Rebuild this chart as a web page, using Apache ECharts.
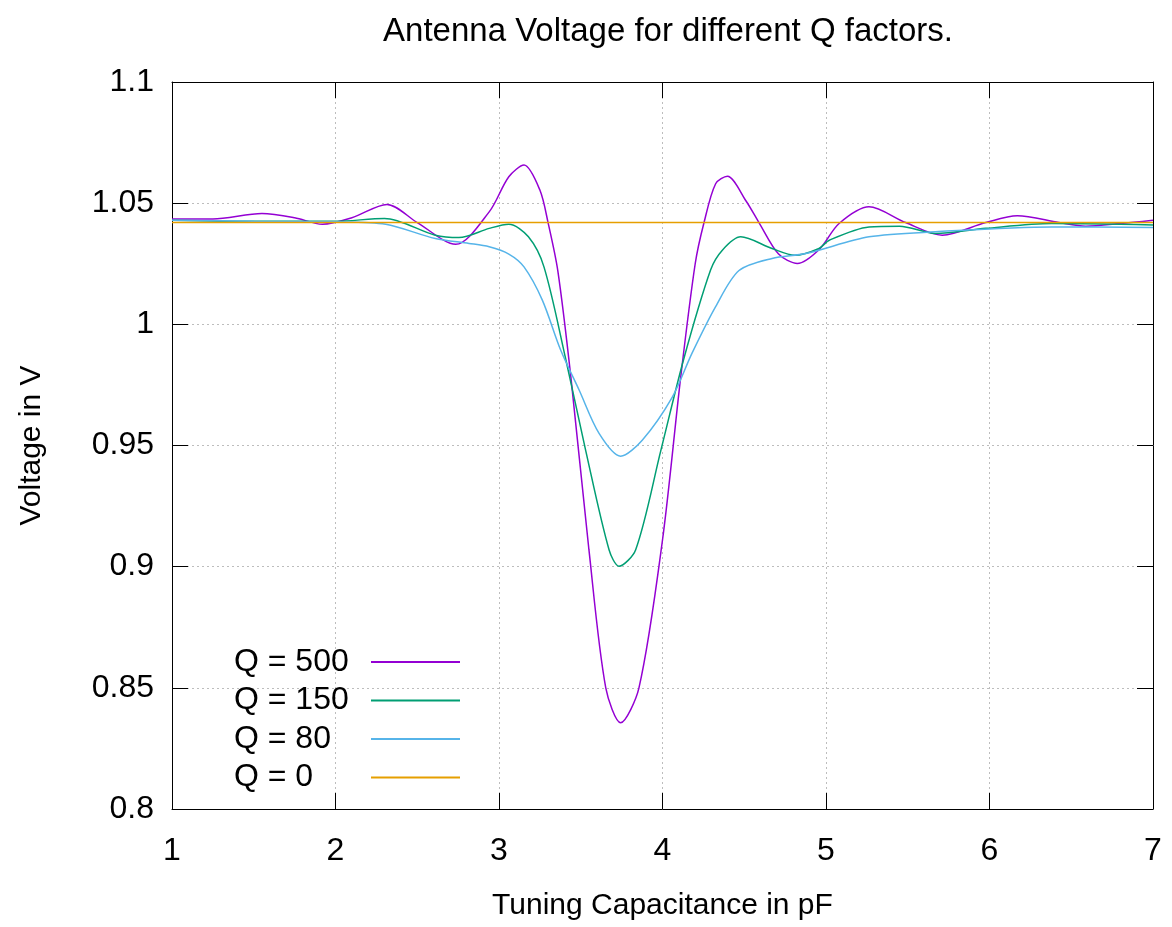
<!DOCTYPE html>
<html>
<head>
<meta charset="utf-8">
<script src="https://cdn.jsdelivr.net/npm/echarts@6/dist/echarts.min.js"></script>
<style>html,body{margin:0;padding:0;background:#fff;}#chart{width:1172px;height:927px;}</style>
</head>
<body>
<div id="chart"></div>
<script>
const titleText = 'Antenna Voltage for different Q factors.';
const xName = 'Tuning Capacitance in pF';
const yName = 'Voltage in V';
const seriesNames = ['Q = 500', 'Q = 150', 'Q = 80', 'Q = 0'];

const q500X = [1.0, 1.25, 1.55, 1.75, 1.92, 2.1, 2.315, 2.5, 2.735, 2.94, 3.06, 3.153, 3.25, 3.30, 3.36, 3.44, 3.55, 3.653, 3.744, 3.856, 4.0, 4.111, 4.2, 4.254, 4.325, 4.397, 4.51, 4.59, 4.71, 4.825, 4.96, 5.08, 5.263, 5.487, 5.711, 5.977, 6.17, 6.425, 6.588, 6.8, 7.0];
const q500Y = [1.0435, 1.0435, 1.0457, 1.0440, 1.0413, 1.0440, 1.0495, 1.0420, 1.0330, 1.0464, 1.0609, 1.0657, 1.0554, 1.0420, 1.0220, 0.9780, 0.9070, 0.8500, 0.8356, 0.8500, 0.9110, 0.9780, 1.0250, 1.0420, 1.0580, 1.0611, 1.0510, 1.0420, 1.0290, 1.0251, 1.0310, 1.0416, 1.0485, 1.0420, 1.0368, 1.0420, 1.0448, 1.0420, 1.0405, 1.0416, 1.0430];

const q150X = [1.0, 1.5, 2.0, 2.3, 2.61, 2.755, 2.94, 3.06, 3.18, 3.275, 3.408, 3.53, 3.673, 3.734, 3.836, 3.99, 4.13, 4.294, 4.366, 4.478, 4.67, 4.81, 4.957, 5.02, 5.263, 5.45, 5.67, 5.977, 6.38, 7.0];
const q150Y = [1.0430, 1.0425, 1.0425, 1.0437, 1.0368, 1.0358, 1.0396, 1.0413, 1.0361, 1.0237, 0.9857, 0.9480, 0.9070, 0.9002, 0.9070, 0.9480, 0.9857, 1.0224, 1.0306, 1.0361, 1.0313, 1.0285, 1.0313, 1.0347, 1.0402, 1.0405, 1.0375, 1.0396, 1.0416, 1.0410];

const q80X = [1.0, 1.5, 2.0, 2.307, 2.61, 2.817, 2.94, 3.06, 3.153, 3.265, 3.377, 3.49, 3.612, 3.744, 3.876, 4.06, 4.18, 4.325, 4.468, 4.67, 4.876, 5.263, 5.67, 6.38, 7.0];
const q80Y = [1.0430, 1.0425, 1.0423, 1.0413, 1.0354, 1.0334, 1.0320, 1.0290, 1.0237, 1.0100, 0.9894, 0.9729, 0.9550, 0.9456, 0.9522, 0.9700, 0.9880, 1.0073, 1.0222, 1.0272, 1.0292, 1.0361, 1.0382, 1.0402, 1.0400];

const q0X = [1.0, 7.0];
const q0Y = [1.042, 1.042];

const colors = ['#9400d3', '#009e73', '#56b4e9', '#e69f00'];

function pairs(xs, ys) { return xs.map((x, i) => [x, ys[i]]); }

const font = 'Liberation Sans, Arial, sans-serif';
const gridLine = { show: true, lineStyle: { color: '#bdbdbd', type: [2, 3], width: 1 } };

const chart = echarts.init(document.getElementById('chart'), null, { renderer: 'canvas' });
chart.setOption({
  backgroundColor: '#fff',
  animation: false,
  color: colors,
  title: {
    text: titleText, left: 663, top: 10, textAlign: 'center',
    textStyle: { fontFamily: font, fontSize: 33, fontWeight: 'normal', color: '#000' }
  },
  grid: { left: 172, right: 19, top: 82, bottom: 118, show: false },
  legend: {
    orient: 'vertical', align: 'right', left: 229, top: 641,
    itemWidth: 89, itemHeight: 2, itemGap: 6.5, icon: 'rect',
    data: seriesNames,
    formatter: n => '{t|' + n + '}',
    textStyle: {
      fontFamily: font, fontSize: 32, color: '#000', lineHeight: 32,
      rich: { t: { fontFamily: font, fontSize: 32, color: '#000', width: 132, align: 'left', lineHeight: 32 } }
    }
  },
  xAxis: [{
    type: 'value', min: 1, max: 7, interval: 1,
    name: xName, nameLocation: 'middle', nameGap: 82,
    nameTextStyle: { fontFamily: font, fontSize: 30, color: '#000' },
    axisLine: { show: true, onZero: false, lineStyle: { color: '#000', width: 1 } },
    axisTick: { show: true, inside: true, length: 16, lineStyle: { color: '#000' } },
    axisLabel: { fontFamily: font, fontSize: 32, color: '#000', margin: 26 },
    splitLine: gridLine
  }, {
    type: 'value', min: 1, max: 7, interval: 1, position: 'top',
    axisLine: { show: true, onZero: false, lineStyle: { color: '#000', width: 1 } },
    axisTick: { show: true, inside: true, length: 16, lineStyle: { color: '#000' } },
    axisLabel: { show: false }, splitLine: { show: false }
  }],
  yAxis: [{
    type: 'value', min: 0.8, max: 1.1, interval: 0.05,
    name: yName, nameLocation: 'middle', nameGap: 125, nameRotate: 90,
    nameTextStyle: { fontFamily: font, fontSize: 30, color: '#000' },
    axisLine: { show: true, onZero: false, lineStyle: { color: '#000', width: 1 } },
    axisTick: { show: true, inside: true, length: 16, lineStyle: { color: '#000' } },
    axisLabel: { fontFamily: font, fontSize: 32, color: '#000', margin: 18,
      formatter: v => String(Math.round(v * 100) / 100) },
    splitLine: gridLine
  }, {
    type: 'value', min: 0.8, max: 1.1, interval: 0.05, position: 'right',
    axisLine: { show: true, onZero: false, lineStyle: { color: '#000', width: 1 } },
    axisTick: { show: true, inside: true, length: 16, lineStyle: { color: '#000' } },
    axisLabel: { show: false }, splitLine: { show: false }
  }],
  series: [
    { name: seriesNames[0], type: 'line', data: pairs(q500X, q500Y), smooth: 0.3, symbol: 'none', lineStyle: { width: 1.5 } },
    { name: seriesNames[1], type: 'line', data: pairs(q150X, q150Y), smooth: 0.3, symbol: 'none', lineStyle: { width: 1.5 } },
    { name: seriesNames[2], type: 'line', data: pairs(q80X, q80Y), smooth: 0.3, symbol: 'none', lineStyle: { width: 1.5 } },
    { name: seriesNames[3], type: 'line', data: pairs(q0X, q0Y), symbol: 'none', lineStyle: { width: 1.5 } }
  ]
});
</script>
</body>
</html>
